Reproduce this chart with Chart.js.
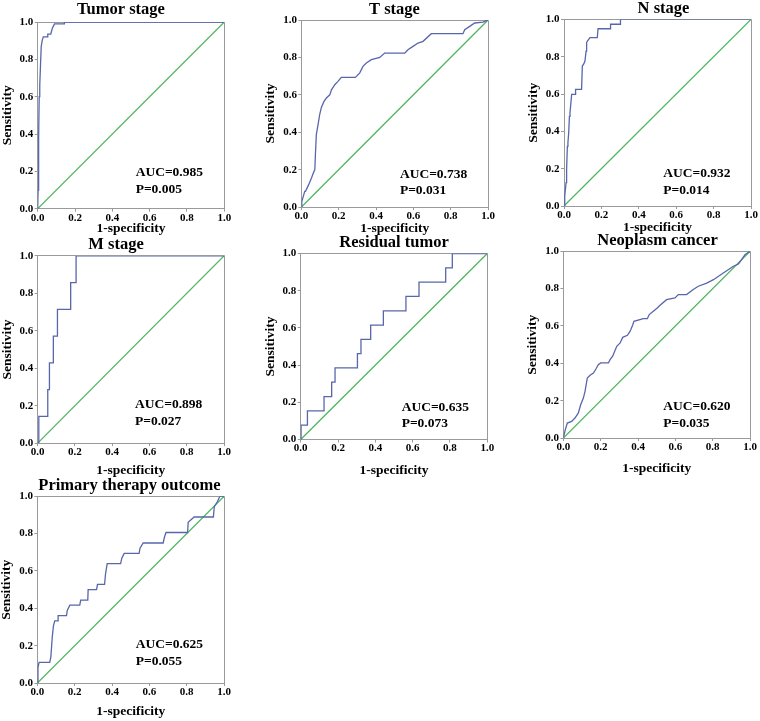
<!DOCTYPE html>
<html><head><meta charset="utf-8">
<script src="https://cdn.jsdelivr.net/npm/chart.js@4.4.1/dist/chart.umd.min.js"></script>
<style>
html,body{margin:0;padding:0;background:#fff;overflow:hidden;width:760px;height:721px;}
canvas{position:absolute;}
</style></head><body>
<script>
// ---------- data ----------
const categories = ['Tumor stage','T stage','N stage','M stage','Residual tumor','Neoplasm cancer','Primary therapy outcome'];
const aucLabels = ['AUC=0.985','AUC=0.738','AUC=0.932','AUC=0.898','AUC=0.635','AUC=0.620','AUC=0.625'];
const pLabels = ['P=0.005','P=0.031','P=0.014','P=0.027','P=0.073','P=0.035','P=0.055'];
const tickLabels = ['0.0','0.2','0.4','0.6','0.8','1.0'];
const xAxisTitle = '1-specificity';
const yAxisTitle = 'Sensitivity';
const diagonalX = [0, 1];
const diagonalY = [0, 1];

const tumorFpr = [0,0.002,0.005,0.008,0.011,0.015,0.019,0.024,0.03,0.052,0.054,0.07,0.078,0.09,0.142,0.143,1];
const tumorTpr = [0,0.1,0.38,0.6,0.66,0.77,0.87,0.9,0.92,0.92,0.935,0.935,0.965,0.99,0.99,1,1];

const tStageFpr = [0,0.002,0.018,0.022,0.039,0.054,0.066,0.072,0.075,0.080,0.089,0.098,0.107,0.121,0.134,0.152,0.161,0.179,0.196,0.214,0.289,0.312,0.33,0.348,0.375,0.42,0.446,0.554,0.571,0.598,0.625,0.652,0.696,0.866,0.875,0.902,0.929,0.973,1];
const tStageTpr = [0,0.03,0.084,0.084,0.12,0.155,0.187,0.2,0.28,0.387,0.44,0.494,0.533,0.565,0.583,0.60,0.627,0.654,0.672,0.693,0.693,0.716,0.752,0.77,0.788,0.80,0.823,0.823,0.841,0.859,0.877,0.886,0.927,0.927,0.948,0.966,0.984,0.989,1];

const nStageFpr = [0,0.003,0.005,0.011,0.014,0.018,0.021,0.025,0.029,0.032,0.041,0.062,0.062,0.094,0.098,0.105,0.112,0.118,0.121,0.125,0.139,0.178,0.182,0.246,0.249,0.3,0.302,1];
const nStageTpr = [0,0.03,0.054,0.125,0.2,0.32,0.34,0.39,0.48,0.5,0.598,0.598,0.625,0.625,0.75,0.76,0.777,0.83,0.875,0.884,0.902,0.902,0.95,0.95,0.974,0.974,1,1];

const mStageFpr = [0,0.006,0.006,0.054,0.054,0.063,0.063,0.084,0.084,0.106,0.106,0.177,0.177,0.206,0.206,1];
const mStageTpr = [0,0,0.143,0.143,0.286,0.286,0.429,0.429,0.571,0.571,0.714,0.714,0.857,0.857,1,1];

const residualFpr = [0,0.002,0.002,0.036,0.036,0.125,0.125,0.166,0.166,0.184,0.184,0.304,0.304,0.323,0.323,0.375,0.375,0.443,0.443,0.564,0.564,0.634,0.634,0.777,0.777,0.8125,0.8125,1];
const residualTpr = [0,0,0.077,0.077,0.154,0.154,0.231,0.231,0.308,0.308,0.385,0.385,0.462,0.462,0.538,0.538,0.615,0.615,0.692,0.692,0.769,0.769,0.846,0.846,0.923,0.923,1,1];

const neoplasmFpr = [0,0.009,0.021,0.044,0.062,0.08,0.093,0.107,0.116,0.128,0.143,0.161,0.175,0.187,0.2,0.241,0.25,0.264,0.271,0.286,0.304,0.318,0.343,0.357,0.371,0.378,0.428,0.45,0.46,0.482,0.503,0.518,0.553,0.598,0.616,0.66,0.696,0.723,0.768,0.804,0.857,0.911,0.938,0.955,0.973,1];
const neoplasmTpr = [0,0.04,0.08,0.089,0.107,0.134,0.179,0.214,0.25,0.321,0.336,0.348,0.371,0.393,0.402,0.402,0.42,0.438,0.455,0.491,0.509,0.539,0.55,0.571,0.604,0.625,0.639,0.639,0.661,0.679,0.696,0.711,0.741,0.75,0.768,0.768,0.795,0.813,0.83,0.848,0.884,0.92,0.932,0.955,0.982,1];

const therapyFpr = [0,0.003,0.009,0.066,0.072,0.08,0.086,0.093,0.111,0.111,0.156,0.16,0.174,0.227,0.232,0.27,0.272,0.317,0.322,0.36,0.365,0.374,0.446,0.452,0.465,0.545,0.55,0.567,0.674,0.68,0.689,0.805,0.808,0.84,0.943,0.948,0.965,0.978,1];
const therapyTpr = [0,0.083,0.111,0.111,0.139,0.25,0.306,0.333,0.333,0.361,0.361,0.389,0.417,0.417,0.444,0.444,0.5,0.5,0.528,0.528,0.583,0.639,0.639,0.667,0.694,0.694,0.722,0.75,0.75,0.778,0.806,0.806,0.861,0.889,0.889,0.944,0.972,1,1];

const fprSeries = [tumorFpr, tStageFpr, nStageFpr, mStageFpr, residualFpr, neoplasmFpr, therapyFpr];
const tprSeries = [tumorTpr, tStageTpr, nStageTpr, mStageTpr, residualTpr, neoplasmTpr, therapyTpr];

// ---------- layout (positions / sizes only) ----------
const frames = [
  {x0:37.7,  x1:224.3, top:22,    bottom:208.7, titleDx:-10,   xTitleOff:19.5, tpb:1.5},
  {x0:301.4, x1:488,   top:20,    bottom:207.1, titleDx:0,     xTitleOff:21.2, tpb:0},
  {x0:564,   x1:751,   top:19.4,  bottom:206,   titleDx:6.2,   xTitleOff:21.2, tpb:0},
  {x0:37.7,  x1:224,   top:255.9, bottom:443.1, titleDx:-14.8, xTitleOff:26.9, tpb:0},
  {x0:300.7, x1:487.3, top:253.5, bottom:439.5, titleDx:0,     xTitleOff:30.5, tpb:0},
  {x0:563.4, x1:750,   top:251.3, bottom:438,   titleDx:0.8,   xTitleOff:30.5, tpb:0},
  {x0:37.4,  x1:224,   top:496.3, bottom:683,   titleDx:-1,    xTitleOff:27.8, tpb:0}
];
const textPos = [
  {fx:0.525, fyA:0.192, fyP:0.103},
  {fx:0.528, fyA:0.175, fyP:0.086},
  {fx:0.531, fyA:0.175, fyP:0.082},
  {fx:0.522, fyA:0.204, fyP:0.114},
  {fx:0.541, fyA:0.171, fyP:0.087},
  {fx:0.535, fyA:0.168, fyP:0.079},
  {fx:0.527, fyA:0.204, fyP:0.114}
];

const FONT = '"Liberation Serif", "Times New Roman", Times, serif';
const GRAY = '#9a9a9a';
const BLUE = '#5866ac';
const GREEN = '#4fb45f';
const TITLE_SIZE = 16.5, TITLE_LH = 20;
const AXIS_TITLE_SIZE = 13.5;
const TICK_SIZE = 11;

const framePlugin = {
  id: 'plotFrame',
  beforeDatasetsDraw(chart) {
    const {ctx, chartArea: a} = chart;
    ctx.save();
    ctx.strokeStyle = GRAY;
    ctx.lineWidth = 1;
    const t = Math.round(a.top - 0.5) + 0.5;
    const r = Math.round(a.right - 0.5) + 0.5;
    ctx.beginPath();
    ctx.moveTo(Math.round(a.left), t);
    ctx.lineTo(r, t);
    ctx.lineTo(r, Math.round(a.bottom));
    ctx.stroke();
    ctx.restore();
  }
};

frames.forEach((f, i) => {
  const Lnom = 37.5;
  const plotW = f.x1 - f.x0, plotH = f.bottom - f.top;
  const left = Math.floor(f.x0 - Lnom);
  const Lr = f.x0 - left;
  const Rnom = Math.max(8, Lr + 2 * f.titleDx);
  const W = Math.round(Lr + plotW + Rnom);
  const R = W - Lr - plotW;
  const canvasTop = Math.floor(f.top - TITLE_LH - f.tpb);
  const pb = f.top - canvasTop - TITLE_LH;
  const Bnom = f.xTitleOff + AXIS_TITLE_SIZE / 2;
  const H = Math.round((f.top - canvasTop) + plotH + Bnom);
  const B = H - (f.top - canvasTop) - plotH;

  const cv = document.createElement('canvas');
  cv.width = W; cv.height = H;
  cv.style.left = left + 'px';
  cv.style.top = canvasTop + 'px';
  cv.style.width = W + 'px';
  cv.style.height = H + 'px';
  document.body.appendChild(cv);

  const pos = textPos[i];
  const textPlugin = {
    id: 'aucText',
    afterDatasetsDraw(chart) {
      const {ctx, scales} = chart;
      ctx.save();
      ctx.fillStyle = '#000';
      ctx.font = 'bold 13.5px ' + FONT;
      ctx.textAlign = 'left';
      ctx.textBaseline = 'middle';
      const x = scales.x.getPixelForValue(pos.fx);
      ctx.fillText(aucLabels[i], x, scales.y.getPixelForValue(pos.fyA));
      ctx.fillText(pLabels[i], x, scales.y.getPixelForValue(pos.fyP));
      ctx.restore();
    }
  };

  const tickFont = {family: FONT, size: TICK_SIZE, weight: 'bold', lineHeight: 1};
  const axisTitleFont = {family: FONT, size: AXIS_TITLE_SIZE, weight: 'bold', lineHeight: 1};

  new Chart(cv, {
    type: 'line',
    data: {
      datasets: [
        {
          label: categories[i],
          data: fprSeries[i].map((x, k) => ({x: x, y: tprSeries[i][k]})),
          borderColor: BLUE, borderWidth: 1.3, pointRadius: 0, tension: 0, fill: false
        },
        {
          label: 'Reference line',
          data: diagonalX.map((x, k) => ({x: x, y: diagonalY[k]})),
          borderColor: GREEN, borderWidth: 1.25, pointRadius: 0, tension: 0, fill: false
        }
      ]
    },
    options: {
      responsive: false,
      animation: false,
      devicePixelRatio: 1,
      layout: {padding: 0},
      plugins: {
        legend: {display: false},
        tooltip: {enabled: false},
        title: {
          display: true, text: categories[i], color: '#000',
          font: {family: FONT, size: TITLE_SIZE, weight: 'bold', lineHeight: TITLE_LH / TITLE_SIZE},
          padding: {top: 0, bottom: pb}
        }
      },
      scales: {
        x: {
          type: 'linear', position: 'bottom', min: 0, max: 1,
          ticks: {stepSize: 0.2, autoSkip: false, maxRotation: 0, color: '#000', font: tickFont, padding: 0.5,
                  callback: (v) => tickLabels[Math.round(v * 5)]},
          grid: {display: true, drawOnChartArea: false, drawTicks: true, tickLength: 3, color: GRAY},
          border: {display: true, color: GRAY, width: 1},
          title: {display: true, text: xAxisTitle, color: '#000', font: axisTitleFont, padding: {top: 0, bottom: 0}},
          afterFit: (s) => { s.height = B; }
        },
        y: {
          type: 'linear', position: 'left', min: 0, max: 1,
          ticks: {stepSize: 0.2, autoSkip: false, color: '#000', font: tickFont, padding: 1.5,
                  callback: (v) => tickLabels[Math.round(v * 5)]},
          grid: {display: true, drawOnChartArea: false, drawTicks: true, tickLength: 3, color: GRAY},
          border: {display: true, color: GRAY, width: 1},
          title: {display: true, text: yAxisTitle, color: '#000', font: axisTitleFont, padding: {top: 0.5, bottom: 0}},
          afterFit: (s) => { s.width = Lr; }
        },
        y2: {
          type: 'linear', position: 'right', display: true, min: 0, max: 1,
          ticks: {display: false}, grid: {display: false}, border: {display: false},
          afterFit: (s) => { s.width = R; }
        }
      }
    },
    plugins: [framePlugin, textPlugin]
  });
});
</script>
</body></html>
